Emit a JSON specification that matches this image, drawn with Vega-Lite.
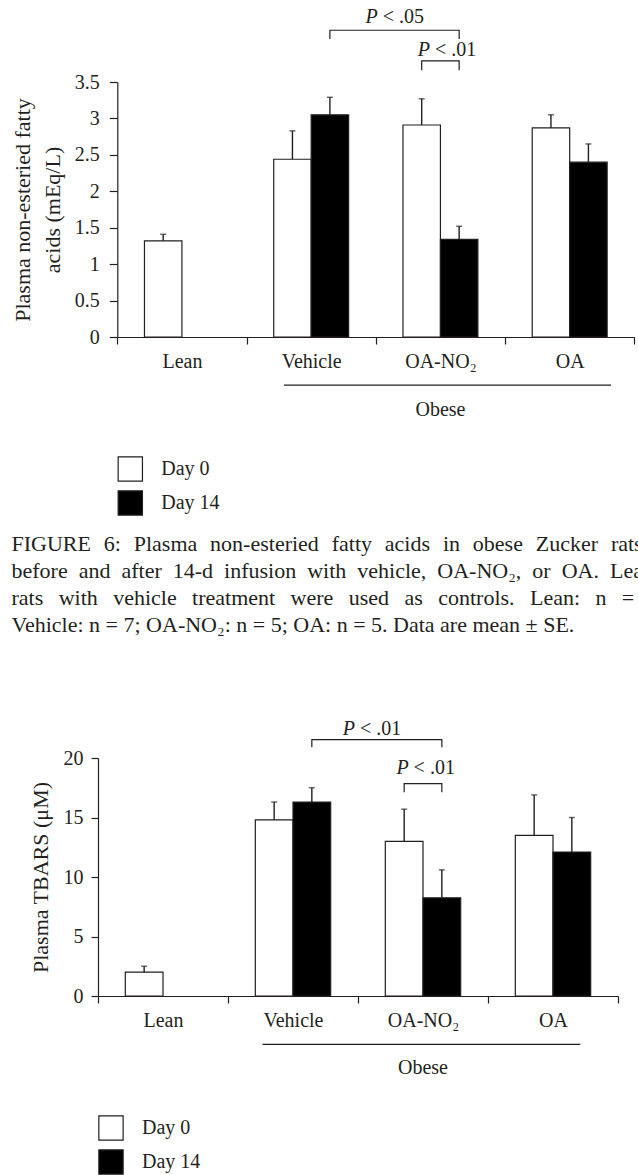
{
  "$schema": "https://vega.github.io/schema/vega-lite/v6.json",
  "background": "white",
  "padding": {"left": 11, "top": 7, "right": 0, "bottom": 0},
  "spacing": 15,
  "resolve": {"scale": {"color": "independent", "xOffset": "independent"}, "legend": {"color": "independent"}},
  "config": {
    "font": "Liberation Serif",
    "view": {"stroke": null},
    "axis": {"domainColor": "#231f20", "tickColor": "#231f20", "labelColor": "#231f20", "titleColor": "#231f20", "labelFont": "Liberation Serif", "titleFont": "Liberation Serif", "labelFontSize": 20, "titleFontSize": 22, "titleFontWeight": "normal", "grid": false, "domainWidth": 1.2, "tickWidth": 1.2},
    "legend": {"title": null, "symbolType": "square", "symbolSize": 590, "symbolStrokeColor": "#231f20", "symbolStrokeWidth": 1.2, "labelFont": "Liberation Serif", "labelFontSize": 20, "labelColor": "#231f20", "rowPadding": 4, "labelOffset": 18, "symbolOpacity": 1},
    "text": {"font": "Liberation Serif", "fontSize": 20, "color": "#231f20", "baseline": "middle"}
  },
  "datasets": {
    "nefa": [
      {"group": "Lean", "day": "Day 0", "mean": 1.32, "hi": 1.41},
      {"group": "Vehicle", "day": "Day 0", "mean": 2.44, "hi": 2.83},
      {"group": "Vehicle", "day": "Day 14", "mean": 3.05, "hi": 3.29},
      {"group": "OA-NO₂", "day": "Day 0", "mean": 2.91, "hi": 3.27},
      {"group": "OA-NO₂", "day": "Day 14", "mean": 1.34, "hi": 1.52},
      {"group": "OA", "day": "Day 0", "mean": 2.87, "hi": 3.05},
      {"group": "OA", "day": "Day 14", "mean": 2.40, "hi": 2.65}
    ],
    "tbars": [
      {"group": "Lean", "day": "Day 0", "mean": 2.0, "hi": 2.5},
      {"group": "Vehicle", "day": "Day 0", "mean": 14.8, "hi": 16.3},
      {"group": "Vehicle", "day": "Day 14", "mean": 16.3, "hi": 17.5},
      {"group": "OA-NO₂", "day": "Day 0", "mean": 13.0, "hi": 15.7},
      {"group": "OA-NO₂", "day": "Day 14", "mean": 8.25, "hi": 10.6},
      {"group": "OA", "day": "Day 0", "mean": 13.5, "hi": 16.9},
      {"group": "OA", "day": "Day 14", "mean": 12.1, "hi": 15.0}
    ],
    "brk1": [
      {"id": "b1", "seq": 1, "group": "Vehicle", "day": "Day 14", "y": 4.09},
      {"id": "b1", "seq": 2, "group": "Vehicle", "day": "Day 14", "y": 4.21},
      {"id": "b1", "seq": 3, "group": "OA-NO₂", "day": "Day 14", "y": 4.21},
      {"id": "b1", "seq": 4, "group": "OA-NO₂", "day": "Day 14", "y": 4.09},
      {"id": "b2", "seq": 1, "group": "OA-NO₂", "day": "Day 0", "y": 3.66},
      {"id": "b2", "seq": 2, "group": "OA-NO₂", "day": "Day 0", "y": 3.79},
      {"id": "b2", "seq": 3, "group": "OA-NO₂", "day": "Day 14", "y": 3.79},
      {"id": "b2", "seq": 4, "group": "OA-NO₂", "day": "Day 14", "y": 3.66}
    ],
    "brk2": [
      {"id": "b1", "seq": 1, "group": "Vehicle", "day": "Day 14", "y": 20.9},
      {"id": "b1", "seq": 2, "group": "Vehicle", "day": "Day 14", "y": 21.54},
      {"id": "b1", "seq": 3, "group": "OA-NO₂", "day": "Day 14", "y": 21.54},
      {"id": "b1", "seq": 4, "group": "OA-NO₂", "day": "Day 14", "y": 20.9},
      {"id": "b2", "seq": 1, "group": "OA-NO₂", "day": "Day 0", "y": 17.12},
      {"id": "b2", "seq": 2, "group": "OA-NO₂", "day": "Day 0", "y": 17.84},
      {"id": "b2", "seq": 3, "group": "OA-NO₂", "day": "Day 14", "y": 17.84},
      {"id": "b2", "seq": 4, "group": "OA-NO₂", "day": "Day 14", "y": 17.12}
    ],
    "sig1": [
      {"id": "b1", "group": "OA-NO₂", "y": 4.39, "label": "< .05"},
      {"id": "b2", "group": "OA-NO₂", "y": 3.94, "label": "< .01"}
    ],
    "sig2": [
      {"id": "b1", "group": "OA-NO₂", "y": 22.4, "label": "< .01"},
      {"id": "b2", "group": "OA-NO₂", "y": 19.16, "label": "< .01"}
    ],
    "obese": [
      {"from": "Vehicle", "to": "OA", "center": "OA-NO₂", "label": "Obese"}
    ]
  },
  "vconcat": [
    {
      "width": 536.3,
      "height": 255,
      "resolve": {"axis": {"x": "independent", "y": "independent"}},
      "layer": [
        {
          "data": {"name": "nefa"},
          "mark": {"type": "bar", "stroke": "#231f20", "strokeWidth": 1.2},
          "encoding": {
            "x": {"field": "group", "type": "nominal",
              "scale": {"domain": ["Lean", "Vehicle", "OA-NO₂", "OA"], "range": [19.3, 536.3], "paddingInner": 0, "paddingOuter": 0},
              "axis": {"title": null, "tickBand": "extent", "labelAngle": 0, "tickSize": 7, "labelPadding": 7,
                "encode": {"labels": {"update": {"dx": {"signal": "datum.value === 'Lean' ? -19 : 0"}}}}}},
            "xOffset": {"field": "day", "type": "nominal", "scale": {"domain": ["Day 0", "Day 14"], "paddingInner": 0, "paddingOuter": 0.725}},
            "y": {"field": "mean", "type": "quantitative", "scale": {"domain": [0, 3.5]},
              "axis": {"title": ["Plasma non-esteried fatty", "acids (mEq/L)"], "offset": -19.3, "values": [0, 0.5, 1, 1.5, 2, 2.5, 3, 3.5], "format": "~g", "tickSize": 8, "labelPadding": 10, "titlePadding": 10, "titleLineHeight": 30}},
            "color": {"field": "day", "type": "nominal", "scale": {"domain": ["Day 0", "Day 14"], "range": ["#ffffff", "#000000"]},
              "legend": {"orient": "none", "legendX": 19.3, "legendY": 374,
                "encode": {"symbols": {"update": {"stroke": {"value": "#231f20"}, "strokeWidth": {"value": 1.2}}}}}}
          }
        },
        {
          "data": {"name": "nefa"},
          "mark": {"type": "rule", "color": "#231f20", "strokeWidth": 1.4},
          "encoding": {
            "x": {"field": "group", "type": "nominal", "axis": null},
            "xOffset": {"field": "day", "type": "nominal"},
            "y": {"field": "hi", "type": "quantitative", "axis": null},
            "y2": {"field": "mean"}
          }
        },
        {
          "data": {"name": "nefa"},
          "mark": {"type": "tick", "orient": "horizontal", "color": "#231f20", "size": 6, "thickness": 1.4},
          "encoding": {
            "x": {"field": "group", "type": "nominal", "axis": null},
            "xOffset": {"field": "day", "type": "nominal"},
            "y": {"field": "hi", "type": "quantitative", "axis": null}
          }
        },
        {
          "data": {"name": "brk1"},
          "mark": {"type": "line", "color": "#231f20", "strokeWidth": 1.2},
          "encoding": {
            "x": {"field": "group", "type": "nominal", "axis": null},
            "xOffset": {"field": "day", "type": "nominal"},
            "y": {"field": "y", "type": "quantitative", "axis": null},
            "detail": {"field": "id"},
            "order": {"field": "seq"}
          }
        },
        {
          "data": {"name": "sig1"},
          "transform": [{"filter": "datum.id === 'b1'"}],
          "mark": {"type": "text", "fontStyle": "italic", "align": "right", "dx": -17},
          "encoding": {
            "x": {"field": "group", "type": "nominal", "bandPosition": 0.146, "axis": null},
            "y": {"field": "y", "type": "quantitative", "axis": null},
            "text": {"value": "P"}
          }
        },
        {
          "data": {"name": "sig1"},
          "transform": [{"filter": "datum.id === 'b1'"}],
          "mark": {"type": "text", "align": "left", "dx": -12},
          "encoding": {
            "x": {"field": "group", "type": "nominal", "bandPosition": 0.146, "axis": null},
            "y": {"field": "y", "type": "quantitative", "axis": null},
            "text": {"field": "label"}
          }
        },
        {
          "data": {"name": "sig1"},
          "transform": [{"filter": "datum.id === 'b2'"}],
          "mark": {"type": "text", "fontStyle": "italic", "align": "right", "dx": -17},
          "encoding": {
            "x": {"field": "group", "type": "nominal", "bandPosition": 0.55, "axis": null},
            "y": {"field": "y", "type": "quantitative", "axis": null},
            "text": {"value": "P"}
          }
        },
        {
          "data": {"name": "sig1"},
          "transform": [{"filter": "datum.id === 'b2'"}],
          "mark": {"type": "text", "align": "left", "dx": -12},
          "encoding": {
            "x": {"field": "group", "type": "nominal", "bandPosition": 0.55, "axis": null},
            "y": {"field": "y", "type": "quantitative", "axis": null},
            "text": {"field": "label"}
          }
        },
        {
          "data": {"name": "obese"},
          "mark": {"type": "rule", "color": "#231f20", "strokeWidth": 1.2},
          "encoding": {
            "x": {"field": "from", "type": "nominal", "bandPosition": 0.29, "axis": null},
            "x2": {"field": "to", "bandPosition": 0.82},
            "y": {"datum": -0.66, "type": "quantitative", "axis": null}
          }
        },
        {
          "data": {"name": "obese"},
          "mark": {"type": "text"},
          "encoding": {
            "x": {"field": "center", "type": "nominal", "axis": null},
            "y": {"datum": -1.0, "type": "quantitative", "axis": null},
            "text": {"field": "label"}
          }
        }
      ]
    },
    {
      "width": 520,
      "height": 238,
      "resolve": {"axis": {"x": "independent", "y": "independent"}},
      "title": {
        "text": [
          "FIGURE\u2002\u200a6:\u2002\u200aPlasma\u2002\u200anon-esteried\u2002\u200afatty\u2002\u200aacids\u2002\u200ain\u2002\u200aobese\u2002\u200aZucker\u2002\u200arats",
          "before\u2002and\u2002after\u200214-d\u2002infusion\u2002with\u2002vehicle,\u2002OA-NO₂,\u2002or\u2002OA.\u2002Lean",
          "rats\u2002\u2009with\u2002\u2009vehicle\u2002\u2009treatment\u2002\u2009were\u2002\u2009used\u2002\u2009as\u2002\u2009controls.\u2002\u2009Lean:\u2002\u2009n\u2002\u2009=\u2002\u20093;",
          "Vehicle: n = 7; OA-NO₂: n = 5; OA: n = 5. Data are mean ± SE."
        ],
        "anchor": "start", "frame": "group", "orient": "top", "dx": -86.5,
        "font": "Liberation Serif", "fontSize": 22, "fontWeight": "normal", "color": "#231f20",
        "lineHeight": 27, "offset": 82
      },
      "layer": [
        {
          "data": {"name": "tbars"},
          "mark": {"type": "bar", "stroke": "#231f20", "strokeWidth": 1.2},
          "encoding": {
            "x": {"field": "group", "type": "nominal",
              "scale": {"domain": ["Lean", "Vehicle", "OA-NO₂", "OA"], "paddingInner": 0, "paddingOuter": 0},
              "axis": {"title": null, "tickBand": "extent", "labelAngle": 0, "tickSize": 7, "labelPadding": 7,
                "encode": {"labels": {"update": {"dx": {"signal": "datum.value === 'Lean' ? -19 : 0"}}}}}},
            "xOffset": {"field": "day", "type": "nominal", "scale": {"domain": ["Day 0", "Day 14"], "paddingInner": 0, "paddingOuter": 0.725}},
            "y": {"field": "mean", "type": "quantitative", "scale": {"domain": [0, 20]},
              "axis": {"title": "Plasma TBARS (μM)", "values": [0, 5, 10, 15, 20], "format": "d", "tickSize": 7, "labelPadding": 8, "titlePadding": 11}},
            "color": {"field": "day", "type": "nominal", "scale": {"domain": ["Day 0", "Day 14"], "range": ["#ffffff", "#000000"]},
              "legend": {"orient": "none", "legendX": 0, "legendY": 357,
                "encode": {"symbols": {"update": {"stroke": {"value": "#231f20"}, "strokeWidth": {"value": 1.2}}}}}}
          }
        },
        {
          "data": {"name": "tbars"},
          "mark": {"type": "rule", "color": "#231f20", "strokeWidth": 1.4},
          "encoding": {
            "x": {"field": "group", "type": "nominal", "axis": null},
            "xOffset": {"field": "day", "type": "nominal"},
            "y": {"field": "hi", "type": "quantitative", "axis": null},
            "y2": {"field": "mean"}
          }
        },
        {
          "data": {"name": "tbars"},
          "mark": {"type": "tick", "orient": "horizontal", "color": "#231f20", "size": 6, "thickness": 1.4},
          "encoding": {
            "x": {"field": "group", "type": "nominal", "axis": null},
            "xOffset": {"field": "day", "type": "nominal"},
            "y": {"field": "hi", "type": "quantitative", "axis": null}
          }
        },
        {
          "data": {"name": "brk2"},
          "mark": {"type": "line", "color": "#231f20", "strokeWidth": 1.2},
          "encoding": {
            "x": {"field": "group", "type": "nominal", "axis": null},
            "xOffset": {"field": "day", "type": "nominal"},
            "y": {"field": "y", "type": "quantitative", "axis": null},
            "detail": {"field": "id"},
            "order": {"field": "seq"}
          }
        },
        {
          "data": {"name": "sig2"},
          "transform": [{"filter": "datum.id === 'b1'"}],
          "mark": {"type": "text", "fontStyle": "italic", "align": "right", "dx": -17},
          "encoding": {
            "x": {"field": "group", "type": "nominal", "bandPosition": 0.108, "axis": null},
            "y": {"field": "y", "type": "quantitative", "axis": null},
            "text": {"value": "P"}
          }
        },
        {
          "data": {"name": "sig2"},
          "transform": [{"filter": "datum.id === 'b1'"}],
          "mark": {"type": "text", "align": "left", "dx": -12},
          "encoding": {
            "x": {"field": "group", "type": "nominal", "bandPosition": 0.108, "axis": null},
            "y": {"field": "y", "type": "quantitative", "axis": null},
            "text": {"field": "label"}
          }
        },
        {
          "data": {"name": "sig2"},
          "transform": [{"filter": "datum.id === 'b2'"}],
          "mark": {"type": "text", "fontStyle": "italic", "align": "right", "dx": -17},
          "encoding": {
            "x": {"field": "group", "type": "nominal", "bandPosition": 0.52, "axis": null},
            "y": {"field": "y", "type": "quantitative", "axis": null},
            "text": {"value": "P"}
          }
        },
        {
          "data": {"name": "sig2"},
          "transform": [{"filter": "datum.id === 'b2'"}],
          "mark": {"type": "text", "align": "left", "dx": -12},
          "encoding": {
            "x": {"field": "group", "type": "nominal", "bandPosition": 0.52, "axis": null},
            "y": {"field": "y", "type": "quantitative", "axis": null},
            "text": {"field": "label"}
          }
        },
        {
          "data": {"name": "obese"},
          "mark": {"type": "rule", "color": "#231f20", "strokeWidth": 1.2},
          "encoding": {
            "x": {"field": "from", "type": "nominal", "bandPosition": 0.265, "axis": null},
            "x2": {"field": "to", "bandPosition": 0.71},
            "y": {"datum": -4.07, "type": "quantitative", "axis": null}
          }
        },
        {
          "data": {"name": "obese"},
          "mark": {"type": "text"},
          "encoding": {
            "x": {"field": "center", "type": "nominal", "axis": null},
            "y": {"datum": -6.08, "type": "quantitative", "axis": null},
            "text": {"field": "label"}
          }
        }
      ]
    }
  ]
}
